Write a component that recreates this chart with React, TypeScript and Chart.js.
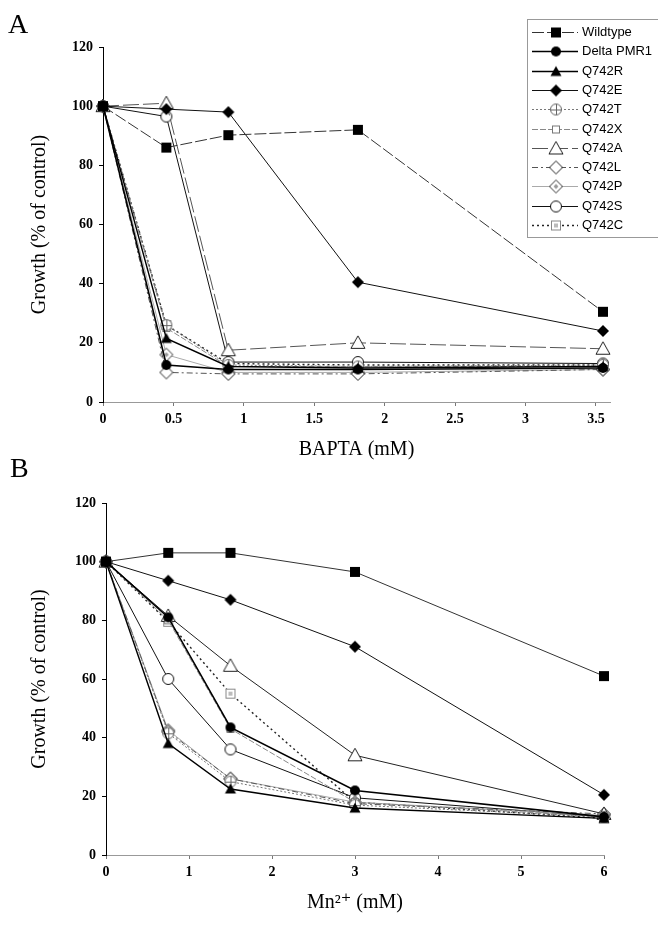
import React, { useEffect, useRef } from 'react';
import { Chart, registerables } from 'chart.js';

Chart.register(...registerables);

// ---------------- DATA ----------------
const seriesNames = ['Wildtype', 'Delta PMR1', 'Q742R', 'Q742E', 'Q742T', 'Q742X', 'Q742A', 'Q742L', 'Q742P', 'Q742S', 'Q742C'];

const baptaX = [0, 0.45, 0.89, 1.81, 3.55];
const baptaTicks = [0, 0.5, 1, 1.5, 2, 2.5, 3, 3.5];
const aWildtype = [100, 86, 90.2, 92, 30.5];
const aDeltaPMR1 = [100, 12.5, 11, 11, 11.5];
const aQ742R = [100, 21.5, 12, 11.5, 12];
const aQ742E = [100, 99, 98, 40.5, 24];
const aQ742T = [100, 26, 12.5, 12, 12.5];
const aQ742X = [100, 25, 12, 12, 12];
const aQ742A = [100, 101, 17.5, 20, 18];
const aQ742L = [100, 10, 9.5, 9.5, 11];
const aQ742P = [100, 16, 10, 10, 11];
const aQ742S = [100, 96.5, 13.5, 13.5, 13];
const aQ742C = [100, 26, 13, 12.5, 12.5];

const mnX = [0, 0.75, 1.5, 3, 6];
const mnTicks = [0, 1, 2, 3, 4, 5, 6];
const bWildtype = [100, 103, 103, 96.5, 61];
const bDeltaPMR1 = [100, 81, 43.5, 22, 13];
const bQ742R = [100, 38, 22.5, 16, 12.5];
const bQ742E = [100, 93.5, 87, 71, 20.5];
const bQ742T = [100, 41.5, 25, 17, 13];
const bQ742X = [100, 80, 43, 18, 13];
const bQ742A = [100, 81.5, 64.5, 34, 14];
const bQ742L = [100, 42, 26, 17.5, 14];
const bQ742P = [100, 42.5, 26, 18, 13.5];
const bQ742S = [100, 60, 36, 19.5, 13];
const bQ742C = [100, 79.5, 55, 18, 12.5];

const yTicks = [0, 20, 40, 60, 80, 100, 120];

const panelA = [aWildtype, aDeltaPMR1, aQ742R, aQ742E, aQ742T, aQ742X, aQ742A, aQ742L, aQ742P, aQ742S, aQ742C];
const panelB = [bWildtype, bDeltaPMR1, bQ742R, bQ742E, bQ742T, bQ742X, bQ742A, bQ742L, bQ742P, bQ742S, bQ742C];

// ---------------- STYLES ----------------
type Kind = 'sqFill' | 'circFill' | 'triFill' | 'diaFill' | 'circCross' | 'sqSmall' | 'triOpen' | 'diaOpen' | 'diaInner' | 'circOpen' | 'sqDot';
type LineStyle = { kind: Kind; color: string; width: number; dash: number[]; dashB?: number[]; colorB?: string };
const seriesStyle: LineStyle[] = [
  { kind: 'sqFill', color: '#333', width: 1, dash: [12, 3], dashB: [], colorB: '#333' },
  { kind: 'circFill', color: '#000', width: 1.6, dash: [] },
  { kind: 'triFill', color: '#000', width: 1.4, dash: [] },
  { kind: 'diaFill', color: '#111', width: 1, dash: [] },
  { kind: 'circCross', color: '#777', width: 1, dash: [2, 2] },
  { kind: 'sqSmall', color: '#888', width: 1, dash: [6, 2] },
  { kind: 'triOpen', color: '#555', width: 1, dash: [16, 4], dashB: [], colorB: '#222' },
  { kind: 'diaOpen', color: '#555', width: 1, dash: [6, 3, 2, 3] },
  { kind: 'diaInner', color: '#aaa', width: 1, dash: [] },
  { kind: 'circOpen', color: '#111', width: 1, dash: [] },
  { kind: 'sqDot', color: '#222', width: 1.4, dash: [2, 3] },
];

const SERIF = '"Liberation Serif", "Times New Roman", "DejaVu Serif", serif';
const SANS = '"Liberation Sans", Arial, sans-serif';

function makeMarker(kind: Kind): HTMLCanvasElement {
  const c = document.createElement('canvas');
  c.width = 18;
  c.height = 18;
  const g = c.getContext('2d')!;
  const m = 9;
  g.lineWidth = 1;
  const poly = (pts: number[][]) => {
    g.beginPath();
    pts.forEach((p, i) => (i ? g.lineTo(p[0], p[1]) : g.moveTo(p[0], p[1])));
    g.closePath();
  };
  switch (kind) {
    case 'sqFill':
      g.fillStyle = '#000';
      g.fillRect(m - 5, m - 5, 10, 10);
      break;
    case 'circFill':
      g.fillStyle = '#000';
      g.beginPath();
      g.arc(m, m, 5, 0, Math.PI * 2);
      g.fill();
      break;
    case 'triFill':
      g.fillStyle = '#000';
      poly([[m, m - 5.5], [m + 5.5, m + 4.5], [m - 5.5, m + 4.5]]);
      g.fill();
      break;
    case 'diaFill':
      g.fillStyle = '#000';
      poly([[m, m - 6], [m + 6, m], [m, m + 6], [m - 6, m]]);
      g.fill();
      break;
    case 'circCross':
      g.fillStyle = '#fff';
      g.strokeStyle = '#666';
      g.beginPath();
      g.arc(m, m, 5.5, 0, Math.PI * 2);
      g.fill();
      g.stroke();
      g.beginPath();
      g.moveTo(m - 5, m + 0.5);
      g.lineTo(m + 5, m + 0.5);
      g.moveTo(m + 0.5, m - 5);
      g.lineTo(m + 0.5, m + 5);
      g.stroke();
      break;
    case 'sqSmall':
      g.fillStyle = '#fff';
      g.strokeStyle = '#777';
      g.fillRect(m - 3.5, m - 3.5, 7, 7);
      g.strokeRect(m - 3.5, m - 3.5, 7, 7);
      break;
    case 'triOpen':
      g.fillStyle = '#fff';
      g.strokeStyle = '#222';
      poly([[m, m - 7], [m + 7, m + 5.5], [m - 7, m + 5.5]]);
      g.fill();
      g.stroke();
      break;
    case 'diaOpen':
      g.fillStyle = '#fff';
      g.strokeStyle = '#222';
      poly([[m, m - 6.5], [m + 6.5, m], [m, m + 6.5], [m - 6.5, m]]);
      g.fill();
      g.stroke();
      break;
    case 'diaInner':
      g.fillStyle = '#fff';
      g.strokeStyle = '#333';
      poly([[m, m - 6.5], [m + 6.5, m], [m, m + 6.5], [m - 6.5, m]]);
      g.fill();
      g.stroke();
      g.fillStyle = '#999';
      poly([[m, m - 2.5], [m + 2.5, m], [m, m + 2.5], [m - 2.5, m]]);
      g.fill();
      break;
    case 'circOpen':
      g.fillStyle = '#fff';
      g.strokeStyle = '#111';
      g.beginPath();
      g.arc(m, m, 5.5, 0, Math.PI * 2);
      g.fill();
      g.stroke();
      break;
    case 'sqDot':
      g.fillStyle = '#fff';
      g.strokeStyle = '#888';
      g.fillRect(m - 5, m - 5, 10, 10);
      g.strokeRect(m - 4.5, m - 4.5, 9, 9);
      g.fillStyle = '#bbb';
      g.fillRect(m - 2, m - 2, 4, 4);
      break;
  }
  return c;
}

function buildDatasets(xs: number[], panel: number[][], markers: HTMLCanvasElement[], isB: boolean) {
  return panel.map((vals, i) => {
    const st = seriesStyle[i];
    return {
      label: seriesNames[i],
      data: vals.map((v, j) => ({ x: xs[j], y: v })),
      borderColor: isB && st.colorB ? st.colorB : st.color,
      borderWidth: st.width,
      borderDash: isB && st.dashB ? st.dashB : st.dash,
      pointStyle: markers[i],
      pointRadius: 6,
      showLine: true,
      fill: false,
      tension: 0,
      clip: false as any,
    };
  });
}

function legendPlugin(markers: HTMLCanvasElement[]) {
  return {
    id: 'customLegend',
    afterDraw(chart: any) {
      const ctx = chart.ctx as CanvasRenderingContext2D;
      ctx.save();
      ctx.strokeStyle = '#999';
      ctx.lineWidth = 1;
      ctx.strokeRect(527.5, 19.5, 140, 218);
      ctx.font = `13px ${SANS}`;
      ctx.textBaseline = 'middle';
      ctx.fillStyle = '#000';
      seriesNames.forEach((name, i) => {
        const y = Math.round(32 + i * 19.3) + 0.5;
        const st = seriesStyle[i];
        ctx.beginPath();
        ctx.strokeStyle = st.color;
        ctx.lineWidth = st.width;
        ctx.setLineDash(st.dash);
        ctx.moveTo(532, y);
        ctx.lineTo(578, y);
        ctx.stroke();
        ctx.setLineDash([]);
        const mk = markers[i];
        ctx.drawImage(mk, 556 - mk.width / 2, y - mk.height / 2);
        ctx.fillText(name, 582, y);
      });
      ctx.restore();
    },
  };
}

function makeOptions(p: {
  xMax: number; xTicks: number[]; xTitle: string; top: number; right: number;
  xHeight: number; yWidth: number; titleBottom: number;
}) {
  const tickFont = { family: SERIF, size: 14, weight: 'bold' as const };
  return {
    responsive: false,
    animation: false as const,
    events: [],
    layout: { padding: { top: p.top, right: p.right, bottom: 0, left: 0 } },
    plugins: { legend: { display: false }, tooltip: { enabled: false } },
    scales: {
      x: {
        type: 'linear' as const,
        min: 0,
        max: p.xMax,
        afterBuildTicks: (s: any) => { s.ticks = p.xTicks.map((v) => ({ value: v })); },
        afterFit: (s: any) => { s.height = p.xHeight; },
        grid: { display: true, drawOnChartArea: false, drawTicks: true, tickLength: 4, color: '#777' },
        border: { display: true, color: '#999', width: 1 },
        ticks: { font: tickFont, color: '#000', padding: 5, maxRotation: 0, autoSkip: false, callback: (v: any) => String(v) },
        title: { display: true, text: p.xTitle, color: '#000', font: { family: SERIF, size: 20 }, padding: { top: 0, bottom: p.titleBottom } },
      },
      y: {
        type: 'linear' as const,
        min: 0,
        max: 120,
        afterBuildTicks: (s: any) => { s.ticks = yTicks.map((v) => ({ value: v })); },
        afterFit: (s: any) => { s.width = p.yWidth; },
        grid: { display: true, drawOnChartArea: false, drawTicks: true, tickLength: 4, color: '#000' },
        border: { display: true, color: '#000', width: 1 },
        ticks: { font: tickFont, color: '#000', padding: 6, callback: (v: any) => String(v) },
        title: { display: true, text: 'Growth (% of control)', color: '#000', font: { family: SERIF, size: 20 }, padding: { top: 28, bottom: 0 } },
      },
    },
  };
}

export default function App() {
  const refA = useRef<HTMLCanvasElement>(null);
  const refB = useRef<HTMLCanvasElement>(null);

  useEffect(() => {
    const markers = seriesStyle.map((s) => makeMarker(s.kind));
    const chartA = new Chart(refA.current!, {
      type: 'scatter',
      data: { datasets: buildDatasets(baptaX, panelA, markers, false) as any },
      options: makeOptions({ xMax: 3.6, xTicks: baptaTicks, xTitle: 'BAPTA (mM)', top: 47, right: 48, xHeight: 63, yWidth: 103, titleBottom: 3 }) as any,
      plugins: [legendPlugin(markers)],
    });
    const chartB = new Chart(refB.current!, {
      type: 'scatter',
      data: { datasets: buildDatasets(mnX, panelB, markers, true) as any },
      options: makeOptions({ xMax: 6, xTicks: mnTicks, xTitle: 'Mn²⁺ (mM)', top: 38, right: 54, xHeight: 72, yWidth: 106, titleBottom: 12 }) as any,
    });
    return () => {
      chartA.destroy();
      chartB.destroy();
    };
  }, []);

  const letter: React.CSSProperties = { position: 'absolute', fontFamily: SERIF, fontSize: 28, lineHeight: '32px', color: '#000' };

  return (
    <div style={{ position: 'absolute', left: 0, top: 0, width: 658, height: 927, background: '#fff' }}>
      <canvas ref={refA} width={658} height={465} style={{ position: 'absolute', left: 0, top: 0 }} />
      <canvas ref={refB} width={658} height={462} style={{ position: 'absolute', left: 0, top: 465 }} />
      <div style={{ ...letter, left: 8, top: 8 }}>A</div>
      <div style={{ ...letter, left: 10, top: 452 }}>B</div>
    </div>
  );
}
